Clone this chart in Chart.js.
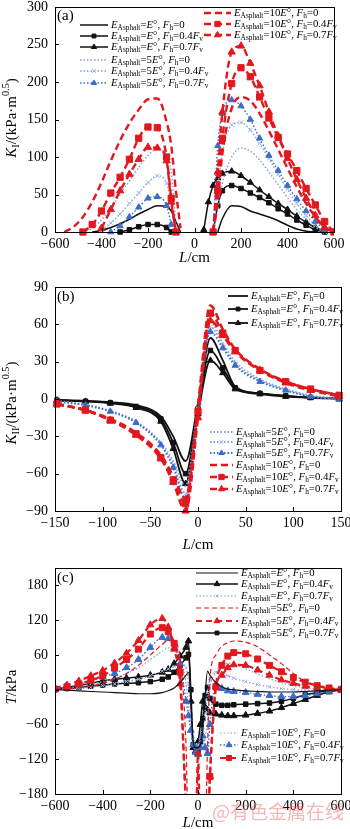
<!DOCTYPE html>
<html>
<head>
<meta charset="utf-8">
<script src="https://cdn.jsdelivr.net/npm/chart.js@4.4.1/dist/chart.umd.min.js"></script>
<style>
  html, body { margin: 0; padding: 0; background: #fff; }
  #wrap { position: relative; width: 350px; height: 829px; overflow: hidden; }
  canvas { position: absolute; left: 0; }
</style>
</head>
<body>
<div id="wrap">
  <canvas id="chartA" width="350" height="270" style="top:0"></canvas>
  <canvas id="chartB" width="350" height="285" style="top:270px"></canvas>
  <canvas id="chartC" width="350" height="274" style="top:555px"></canvas>
</div>
<script>
// ---- (a) K_I vs L, two branches with a gap at L = 0
const aL = [-560, -520, -480, -440, -400, -360, -320, -280, -240, -200, -160, -120, -100, -80, -60, 0,
            40, 60, 80, 100, 120, 160, 200, 240, 280, 320, 360, 400, 440, 480, 520, 560, 600];
const aE0    = [null, null, null, 0, 2, 6, 11, 17, 24, 30, 35, 34, 28, 14, 0, null,
                null, null, null, 0, 18, 35, 34, 28, 24, 20, 15, 9, 4, 1, 0, null, null];
const aE04   = [null, null, null, null, null, null, 0, 3, 7, 10, 10, 6, 0, null, null, null,
                null, null, 0, 35, 55, 62, 58, 52, 46, 39, 31, 24, 16, 9, 3, 0, null];
const aE07   = [null, null, null, null, null, null, null, null, null, null, null, null, null, null, null, null,
                3, 40, 62, 72, 78, 81, 75, 66, 56, 47, 38, 30, 21, 13, 6, 1, null];
const a5E0   = [null, null, 0, 5, 16, 32, 50, 68, 86, 102, 111, 102, 80, 10, null, null,
                null, null, 0, 30, 65, 100, 112, 108, 96, 80, 63, 46, 30, 17, 6, 0, null];
const a5E04  = [null, null, null, null, 3, 12, 24, 38, 52, 66, 75, 65, 40, 0, null, null,
                null, null, 0, 60, 105, 143, 146, 136, 118, 98, 77, 57, 38, 22, 9, 0, null];
const a5E07  = [null, null, null, null, null, 0, 8, 20, 33, 45, 47, 35, 10, null, null, null,
                null, null, 0, 115, 158, 176, 168, 150, 125, 102, 82, 62, 44, 28, 14, 3, null];
const a10E0  = [0, 7, 20, 40, 66, 95, 122, 145, 163, 177, 178, 147, 115, 55, 5, null,
                null, null, 0, 40, 105, 165, 180, 175, 158, 135, 110, 85, 60, 38, 20, 6, 0];
const a10E04 = [null, null, 0, 10, 28, 52, 73, 97, 125, 140, 139, 100, 45, 0, null, null,
                null, null, 0, 55, 125, 198, 219, 207, 180, 152, 126, 104, 82, 58, 36, 14, 0];
const a10E07 = [null, null, null, null, 5, 30, 55, 77, 97, 113, 112, 95, 40, 0, null, null,
                null, null, 0, 80, 160, 240, 248, 225, 195, 160, 128, 98, 70, 45, 22, 6, 0];

// ---- (b) K_II vs L
const bL     = [-148, -118, -92, -65, -39, -26, -13, 0, 13, 26, 39, 65, 92, 118, 148];
const bE0    = [-0.8, -1.5, -2.5, -5, -14, -30, -50, -3, 49, 31, 10, 4.5, 2.5, 1.2, 0.5];
const bE04   = [-1, -1.8, -3, -6, -16, -35, -60, -8, 39, 25, 9, 4.5, 2.5, 1.2, 0.5];
const bE07   = [-1, -2, -3.5, -7, -18, -40, -68, -12, 31, 21, 8, 4, 2, 1, 0.3];
const b5E0   = [-1.5, -4.5, -9.5, -18, -35, -50, -70, -4, 62, 45, 30, 16, 8, 3, 0.5];
const b5E04  = [-2, -5, -10, -19, -36, -53, -76, -8, 58, 43, 28, 15, 7, 2, 0];
const b5E07  = [-2, -5, -10, -19, -37, -55, -80, -10, 54, 41, 27, 14, 7, 2, -0.5];
const b10E0  = [-4, -9, -16, -27, -45, -62, -80, -5, 75, 56, 40, 24, 14, 8, 3];
const b10E04 = [-4, -9, -17, -28, -47, -65, -84, -10, 69, 53, 39, 23, 14, 8, 3];
const b10E07 = [-4, -9, -17, -29, -48, -67, -90, -15, 63, 51, 38, 23, 13, 7, 2];

// ---- (c) T vs L
const cL = [-600, -550, -500, -450, -400, -350, -300, -250, -200, -150, -125, -100, -75, -50, -40, -30, -20, -10, 0,
            10, 20, 30, 40, 50, 75, 100, 125, 150, 200, 250, 300, 350, 400, 450, 500, 550, 600];
const cE0    = [0, -1, -2, -3, -4, -5, -6, -7, -7, -5, -2, 3, 12, 25, 30, -20, -90, -100, -100,
                -95, -70, -10, 32, 25, 12, 5, 1, 0, -2, -3, -4, -4, -4, -3, -2, -1, 0];
const cE04   = [1, 4, 7, 11, 15, 18, 20, 22, 25, 30, 35, 45, 58, 73, 84, -20, -100, -106, -90,
                -60, -20, -30, -35, -40, -42, -44, -45, -45, -44, -41, -37, -31, -24, -17, -10, -4, 0];
const cE07   = [0, 1, 2, 4, 7, 10, 14, 18, 24, 32, 36, 40, 45, 38, 10, -50, -85, -95, -95,
                -88, -70, -40, -5, 20, 30, 28, 24, 20, 14, 9, 5, 2, 0, -1, -1, 0, 0];
const c5E0   = [0, 1, 3, 6, 11, 18, 28, 42, 60, 78, 85, 82, 55, -100, -250, -250, -250, -250, -130,
                -250, -250, -250, -100, 20, 60, 75, 81, 84, 82, 74, 60, 45, 28, 14, 6, 2, 0];
const c5E04  = [3, 8, 15, 24, 33, 46, 63, 85, 112, 123, 108, 70, 10, -200, -250, -250, -250, -250, -110,
                -250, -250, -250, -250, -150, 5, 25, 38, 43, 42, 34, 25, 17, 11, 6, 3, 1, 0];
const c5E07  = [0, 2, 4, 6, 8, 10, 11, 12, 14, 18, 22, 30, 42, 55, 61, 0, -95, -100, -105,
                -90, -50, -10, 4, -15, -25, -27, -27, -26, -25, -24, -23, -20, -15, -9, -5, -2, 0];
const c10E0  = [0, 2, 5, 9, 14, 20, 28, 38, 52, 66, 72, 70, 55, 10, -30, -70, -95, -105, -105,
                -100, -95, -85, -50, 0, 30, 44, 46, 44, 36, 27, 19, 12, 7, 3, 1, 0, 0];
const c10E04 = [1, 4, 9, 15, 22, 28, 38, 52, 73, 90, 88, 72, 45, -20, -45, -70, -95, -108, -112,
                -100, -80, -100, -110, -60, 8, 2, -2, -3, -5, -8, -10, -12, -12, -10, -7, -3, 0];
const c10E07 = [1, 5, 10, 16, 24, 37, 52, 70, 96, 107, 100, 80, 30, -200, -250, -250, -250, -250, -250,
                -250, -250, -250, -250, -150, 5, 42, 58, 64, 62, 53, 42, 31, 21, 13, 7, 3, 0];

const SERIF = '"Liberation Serif", "Times New Roman", serif';
Chart.defaults.font.family = SERIF;
Chart.defaults.color = '#000';

const RED = '#e3171d', BLACK = '#111', BLUE = '#3a6cc8', LBLUE = '#7ea0d8', XBLUE = '#9db6e3';
const LEG_SIZE = 10.8;

function lineLook(color, width, dash) {
  return { borderColor: color, borderWidth: width, borderDash: dash, pointRadius: 0 };
}
function mark(base, style, r, color) {
  return Object.assign({}, base, {
    pointStyle: style, pointRadius: r, pointBackgroundColor: color,
    pointBorderColor: color, pointBorderWidth: 1
  });
}
function series(key, xs, ys, mult, fh, look) {
  return Object.assign({
    key, mult, fh,
    data: xs.map((x, i) => ({ x: x, y: ys[i] })),
    fill: false, cubicInterpolationMode: 'monotone', spanGaps: false, pointHoverRadius: 0
  }, look);
}

// rich text: [text, kind] with kind n | i | sub | sup
function setFont(ctx, kind, size) {
  const s = (kind === 'sub' || kind === 'sup') ? size * 0.68 : size;
  ctx.font = (kind === 'i' ? 'italic ' : '') + s + 'px ' + SERIF;
}
function richWidth(ctx, segs, size) {
  let w = 0;
  segs.forEach(([t, k]) => { setFont(ctx, k, size); w += ctx.measureText(t).width; });
  return w;
}
function drawRich(ctx, segs, x, y, size) {
  ctx.textBaseline = 'middle';
  ctx.textAlign = 'left';
  segs.forEach(([t, k]) => {
    setFont(ctx, k, size);
    const dy = k === 'sub' ? size * 0.28 : (k === 'sup' ? -size * 0.36 : 0);
    ctx.fillText(t, x, y + dy);
    x += ctx.measureText(t).width;
  });
}
function legendSegs(mult, fh) {
  const s = [['E', 'i'], ['Asphalt', 'sub'], ['=' + mult, 'n'], ['E', 'i'], ['\u00b0, ', 'n'],
             ['F', 'i'], ['h', 'sub'], ['=', 'n']];
  if (fh === '0') s.push(['0', 'n']);
  else s.push([fh, 'n'], ['F', 'i'], ['v', 'sub']);
  return s;
}

const X_TITLE = [['L', 'i'], ['/cm', 'n']];
const DECO = {
  chartA: {
    tag: '(a)', tagY: 16, xTitleY: 258, yTitleY: 118,
    yTitle: [['K', 'i'], ['I', 'sub'], ['/(kPa\u00b7m', 'n'], ['0.5', 'sup'], [')', 'n']],
    legend: [
      { key: 'E0', x0: 80, x1: 108, y: 25 }, { key: 'E04', x0: 80, x1: 108, y: 36 },
      { key: 'E07', x0: 80, x1: 108, y: 47 }, { key: '5E0', x0: 80, x1: 108, y: 60 },
      { key: '5E04', x0: 80, x1: 108, y: 71 }, { key: '5E07', x0: 80, x1: 108, y: 83 },
      { key: '10E0', x0: 204, x1: 231, y: 13 }, { key: '10E04', x0: 204, x1: 231, y: 24 },
      { key: '10E07', x0: 204, x1: 231, y: 35 }
    ]
  },
  chartB: {
    tag: '(b)', tagY: 27, xTitleY: 275, yTitleY: 133,
    yTitle: [['K', 'i'], ['II', 'sub'], ['/(kPa\u00b7m', 'n'], ['0.5', 'sup'], [')', 'n']],
    legend: [
      { key: 'E0', x0: 228, x1: 248, y: 26 }, { key: 'E04', x0: 228, x1: 248, y: 39 },
      { key: 'E07', x0: 228, x1: 248, y: 53 },
      { key: '5E0', x0: 210, x1: 233, y: 162 }, { key: '5E04', x0: 210, x1: 233, y: 172 },
      { key: '5E07', x0: 210, x1: 233, y: 183 }, { key: '10E0', x0: 210, x1: 233, y: 195 },
      { key: '10E04', x0: 210, x1: 233, y: 207 }, { key: '10E07', x0: 210, x1: 233, y: 219 }
    ]
  },
  chartC: {
    tag: '(c)', tagY: 23, xTitleY: 268, yTitleY: 132,
    yTitle: [['T', 'i'], ['/kPa', 'n']],
    watermark: true,
    legend: [
      { key: 'E0', x0: 196, x1: 238, y: 18 }, { key: 'E04', x0: 196, x1: 238, y: 29 },
      { key: 'E07', x0: 196, x1: 238, y: 41 }, { key: '5E0', x0: 196, x1: 238, y: 53 },
      { key: '5E04', x0: 196, x1: 238, y: 66 }, { key: '5E07', x0: 196, x1: 238, y: 78 },
      { key: '10E0', x0: 220, x1: 238, y: 178 }, { key: '10E04', x0: 220, x1: 238, y: 190 },
      { key: '10E07', x0: 220, x1: 238, y: 203 }
    ]
  }
};

// frame, inward ticks, titles and the in-plot legends
const decoPlugin = {
  id: 'deco',
  afterDatasetsDraw(chart) {
    const d = DECO[chart.canvas.id];
    const { ctx, chartArea: a, scales: { x, y } } = chart;
    ctx.save();
    ctx.strokeStyle = '#000';
    ctx.lineWidth = 1;
    ctx.setLineDash([]);
    ctx.strokeRect(Math.round(a.left) + 0.5, Math.round(a.top) + 0.5,
                   Math.round(a.right - a.left), Math.round(a.bottom - a.top));
    ctx.beginPath();
    x.ticks.forEach(t => {
      const px = Math.round(x.getPixelForValue(t.value)) + 0.5;
      ctx.moveTo(px, a.bottom); ctx.lineTo(px, a.bottom - 4);
    });
    y.ticks.forEach(t => {
      if (t.label === null || t.label === undefined) return;
      const py = Math.round(y.getPixelForValue(t.value)) + 0.5;
      ctx.moveTo(a.left, py); ctx.lineTo(a.left + 4, py);
    });
    ctx.stroke();

    ctx.fillStyle = '#000';
    ctx.font = '15px ' + SERIF;
    ctx.textBaseline = 'middle';
    ctx.fillText(d.tag, 57, d.tagY);

    const cx = (a.left + a.right) / 2;
    drawRich(ctx, X_TITLE, cx - richWidth(ctx, X_TITLE, 15) / 2, d.xTitleY, 15);
    ctx.save();
    ctx.translate(12, d.yTitleY);
    ctx.rotate(-Math.PI / 2);
    drawRich(ctx, d.yTitle, -richWidth(ctx, d.yTitle, 15) / 2, 0, 15);
    ctx.restore();

    d.legend.forEach(e => {
      const ds = chart.data.datasets.find(s => s.key === e.key);
      ctx.save();
      ctx.strokeStyle = ds.borderColor;
      ctx.lineWidth = ds.borderWidth;
      ctx.setLineDash(ds.borderDash || []);
      ctx.beginPath();
      ctx.moveTo(e.x0, e.y); ctx.lineTo(e.x1, e.y);
      ctx.stroke();
      ctx.restore();
      if (ds.pointRadius > 0) {
        ctx.save();
        ctx.fillStyle = ds.pointBackgroundColor;
        ctx.strokeStyle = ds.pointBorderColor;
        ctx.lineWidth = 1;
        ctx.setLineDash([]);
        Chart.helpers.drawPoint(ctx, { pointStyle: ds.pointStyle, radius: ds.pointRadius * 0.85,
          borderWidth: 1, rotation: 0 }, (e.x0 + e.x1) / 2, e.y);
        ctx.restore();
      }
      ctx.fillStyle = '#000';
      drawRich(ctx, legendSegs(ds.mult, ds.fh), e.x1 + 3, e.y, LEG_SIZE);
    });

    if (d.watermark) {
      ctx.fillStyle = 'rgba(235, 110, 110, 0.5)';
      ctx.font = '19px "Noto Sans CJK SC", sans-serif';
      ctx.textBaseline = 'middle';
      ctx.fillText('@有色金属在线', 212, 257);
    }
    ctx.restore();
  }
};

function fmt(v) { return v < 0 ? '\u2212' + Math.abs(v) : String(v); }

function makeChart(id, datasets, xr, yr, pad, clip, yCb) {
  return new Chart(document.getElementById(id), {
    type: 'line',
    data: { datasets },
    options: {
      responsive: false,
      animation: false,
      events: [],
      layout: { padding: pad },
      datasets: { line: { clip: clip } },
      plugins: { legend: { display: false }, tooltip: { enabled: false } },
      scales: {
        x: {
          type: 'linear', min: xr[0], max: xr[1],
          grid: { display: false, drawTicks: false }, border: { display: false },
          ticks: { stepSize: xr[2], font: { size: 14 }, padding: 4, maxRotation: 0, autoSkip: false, callback: fmt },
          afterFit: s => { s.height = 18; s.paddingLeft = 0; s.paddingRight = 0; }
        },
        y: {
          min: yr[0], max: yr[1],
          grid: { display: false, drawTicks: false }, border: { display: false },
          ticks: { stepSize: yr[2], font: { size: 14 }, padding: 7, autoSkip: false, callback: yCb || fmt },
          afterFit: s => { s.width = 40; s.paddingTop = 0; s.paddingBottom = 0; }
        }
      }
    },
    plugins: [decoPlugin]
  });
}

// panel (a)
const solidA = lineLook(BLACK, 1.5, []), dotA = lineLook(LBLUE, 1.4, [1.5, 2]);
const dotTA = lineLook(BLUE, 1.4, [1.5, 2]), dashA = lineLook(RED, 2.4, [7, 4]);
makeChart('chartA', [
  series('10E07', aL, a10E07, '10', '0.7', mark(dashA, 'triangle', 4.2, RED)),
  series('10E04', aL, a10E04, '10', '0.4', mark(dashA, 'rect', 4.4, RED)),
  series('10E0', aL, a10E0, '10', '0', dashA),
  series('5E07', aL, a5E07, '5', '0.7', mark(dotTA, 'triangle', 3.6, BLUE)),
  series('5E04', aL, a5E04, '5', '0.4', mark(dotA, 'crossRot', 3, XBLUE)),
  series('5E0', aL, a5E0, '5', '0', dotA),
  series('E07', aL, aE07, '', '0.7', mark(solidA, 'triangle', 3.6, BLACK)),
  series('E04', aL, aE04, '', '0.4', mark(solidA, 'rect', 3.2, BLACK)),
  series('E0', aL, aE0, '', '0', solidA)
], [-600, 600, 200], [0, 300, 50], { left: 15, right: 16, top: 7, bottom: 20 },
   { left: 0, right: 0, top: 0, bottom: 5 });

// panel (b)
const solidB = lineLook(BLACK, 1.8, []), dotB = lineLook(LBLUE, 1.8, [1.5, 2]);
const dotTB = lineLook(BLUE, 1.8, [1.5, 2]), dashB = lineLook(RED, 2.6, [7, 4]);
makeChart('chartB', [
  series('10E07', bL, b10E07, '10', '0.7', mark(dashB, 'triangle', 4.2, RED)),
  series('10E04', bL, b10E04, '10', '0.4', mark(dashB, 'rect', 4.4, RED)),
  series('10E0', bL, b10E0, '10', '0', dashB),
  series('5E07', bL, b5E07, '5', '0.7', mark(dotTB, 'triangle', 3.6, BLUE)),
  series('5E04', bL, b5E04, '5', '0.4', mark(dotB, 'crossRot', 3, XBLUE)),
  series('5E0', bL, b5E0, '5', '0', dotB),
  series('E07', bL, bE07, '', '0.7', mark(solidB, 'triangle', 3.6, BLACK)),
  series('E04', bL, bE04, '', '0.4', mark(solidB, 'rect', 3.2, BLACK)),
  series('E0', bL, bE0, '', '0', solidB)
], [-150, 150, 50], [-90, 90, 30], { left: 15, right: 9, top: 17, bottom: 26 }, 3);

// panel (c)
makeChart('chartC', [
  series('E0', cL, cE0, '', '0', lineLook(BLACK, 1.1, [])),
  series('10E07', cL, c10E07, '10', '0.7', mark(lineLook(RED, 2.2, [6, 4]), 'rect', 4.2, RED)),
  series('5E04', cL, c5E04, '5', '0.4', mark(lineLook(RED, 2.2, [6, 4]), 'triangle', 4, RED)),
  series('5E0', cL, c5E0, '5', '0', lineLook(RED, 1.2, [5, 3])),
  series('10E04', cL, c10E04, '10', '0.4', mark(lineLook(BLUE, 1.4, [1.5, 2]), 'triangle', 4, BLUE)),
  series('10E0', cL, c10E0, '10', '0', lineLook(LBLUE, 1.2, [1.5, 2])),
  series('E07', cL, cE07, '', '0.7', mark(lineLook(LBLUE, 1.2, [1.5, 2]), 'crossRot', 2.6, XBLUE)),
  series('E04', cL, cE04, '', '0.4', mark(lineLook(BLACK, 1.5, []), 'triangle', 3.8, BLACK)),
  series('5E07', cL, c5E07, '5', '0.7', mark(lineLook(BLACK, 1.5, []), 'rect', 3.2, BLACK))
], [-600, 600, 200], [-180, 210, 60], { left: 15, right: 9, top: 13, bottom: 17 }, 0,
   v => (v % 60 === 0 ? fmt(v) : null));
</script>
</body>
</html>
